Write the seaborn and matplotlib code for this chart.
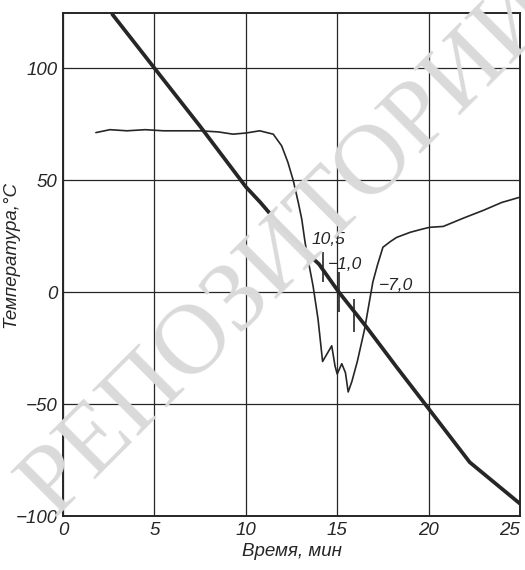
import matplotlib
matplotlib.use("Agg")
import matplotlib.pyplot as plt
import seaborn as sns
import pandas as pd

# cooling medium (thick line)
medium_t = [2.7, 5.0, 7.5, 10.0, 10.8, 11.9, 13.3, 14.0, 15.05, 16.6, 18.25, 19.9, 22.25, 25.0]
medium_temp = [124, 100, 74, 47, 40, 29.5, 17.8, 12.5, 0.4, -15.6, -33.5, -51, -76, -94.5]

# sample temperature (thin line)
sample_t = [1.8, 2.57, 3.5, 4.5, 5.5, 6.5, 7.5, 8.5, 9.3, 10.0, 10.76, 11.5, 11.96, 12.3,
            12.6, 12.87, 13.06, 13.24, 13.4, 13.68, 13.95, 14.2, 14.5, 14.7, 14.88, 15.0,
            15.25, 15.45, 15.6, 15.8, 16.1, 16.5, 16.95, 17.2, 17.5, 17.9, 18.25, 19.0,
            19.6, 20.05, 20.8, 21.9, 23.0, 24.0, 25.1]
sample_temp = [71.2, 72.5, 72, 72.5, 72, 72, 72, 71.5, 70.5, 71, 72, 70.5, 65.3, 58,
               49.7, 40, 32.6, 22.3, 14.7, 2.7, -12, -31, -26.8, -24, -33, -36.6,
               -32, -36, -44.6, -40, -31, -16.5, 4.5, 12, 20, 22.5, 24.4, 26.7,
               28, 28.9, 29.3, 33, 36.5, 40, 42.6]

# crystallisation marks and their labels
mark_x = [14.24, 15.1, 15.9]
mark_lo = [4.5, -9, -18]
mark_hi = [17.8, 9, -3]
mark_labels = ["10,5", "\u22121,0", "\u22127,0"]
label_x = [13.6, 14.5, 17.3]
label_y = [23.4, 12.5, 3]

xticks = [0, 5, 10, 15, 20, 25]
yticks = [-100, -50, 0, 50, 100]
ytick_labels = ["\u2212100", "\u221250", "0", "50", "100"]

sns.set_style("white")
plt.rcParams["font.family"] = ["Liberation Sans", "DejaVu Sans"]
plt.rcParams["font.style"] = "italic"

ink = "#262626"
fig = plt.figure(figsize=(5.25, 5.7), dpi=100)
ax = fig.add_axes([0.12, 0.0947, 0.8705, 0.8825])

# watermark of the scanned source
fig.text(0.55, 0.565, "РЕПОЗИТОРИЙ", family="Liberation Serif", style="normal",
         fontsize=72, color="#dadada", rotation=45, ha="center", va="center", zorder=0)
ax.set_facecolor("none")

df_m = pd.DataFrame({"t": medium_t, "T": medium_temp})
df_s = pd.DataFrame({"t": sample_t, "T": sample_temp})
sns.lineplot(data=df_m, x="t", y="T", ax=ax, color=ink, lw=2.7, estimator=None, sort=False)
sns.lineplot(data=df_s, x="t", y="T", ax=ax, color=ink, lw=1.2, estimator=None, sort=False)

ax.vlines(mark_x, mark_lo, mark_hi, color=ink, lw=1.2)
for lx, ly, s in zip(label_x, label_y, mark_labels):
    ax.text(lx, ly, s, fontsize=12.5, color=ink, va="center", ha="left")

ax.set_xlim(0, 25)
ax.set_ylim(-100, 124.6)
ax.set_xticks(xticks)
ax.set_xticklabels([str(v) for v in xticks])
ax.set_yticks(yticks)
ax.set_yticklabels(ytick_labels)
ax.tick_params(length=0, labelsize=13.5, colors=ink, pad=4)
ax.get_xticklabels()[-1].set_ha("right")
ax.grid(True, color=ink, lw=0.9)
for sp in ax.spines.values():
    sp.set_color(ink)
    sp.set_linewidth(1.4)

ax.set_xlabel("Время, мин", fontsize=13.5, color=ink, labelpad=3)
ax.set_ylabel("Температура,°С", fontsize=13.5, color=ink)
ax.yaxis.set_label_coords(-0.095, 0.52)

fig.savefig("out.png", dpi=100)
